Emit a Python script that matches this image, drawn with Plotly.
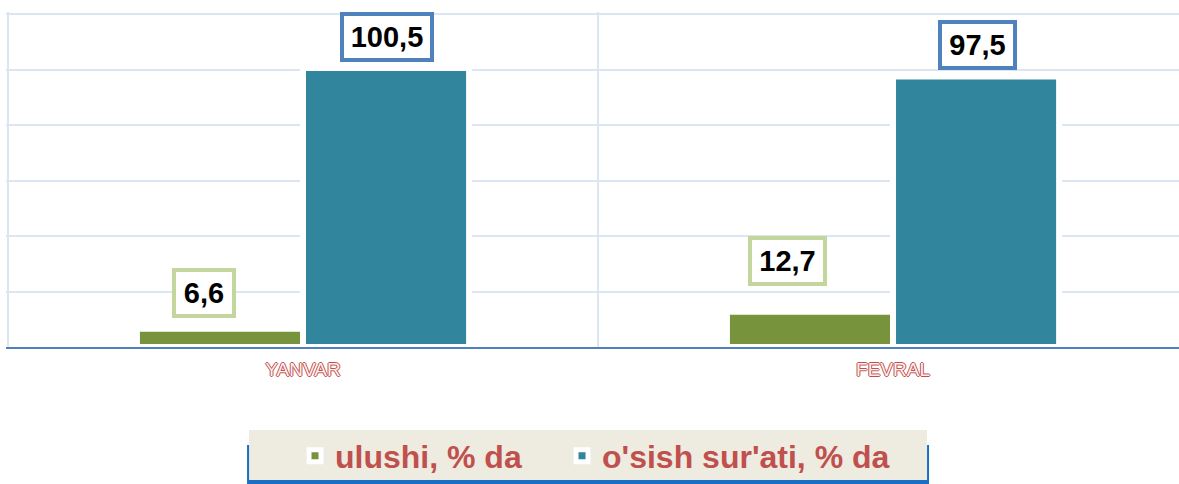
import plotly.graph_objects as go

categories = ["YANVAR", "FEVRAL"]
ulushi = [6.6, 12.7]
osish = [100.5, 97.5]
ulushi_labels = ["6,6", "12,7"]
osish_labels = ["100,5", "97,5"]
series_names = ["ulushi, % da", "o'sish sur'ati, % da"]

FONT = "Liberation Sans, Arial, sans-serif"
OLIVE = "#77933C"
TEAL = "#31859C"
RED = "#C0504D"

fig = go.Figure()
fig.add_bar(x=categories, y=ulushi, name=series_names[0], legendwidth=222,
            marker=dict(color=OLIVE, line=dict(color="white", width=6)))
fig.add_bar(x=categories, y=osish, name=series_names[1],
            marker=dict(color=TEAL, line=dict(color="white", width=6)))

# data labels
lab_style = [
    dict(border="#C3D69B", xshifts=[-99, -106], yshifts=[11, 26]),
    dict(border="#4F81BD", xshifts=[84, 84], yshifts=[6, 6]),
]
for s, (vals, labs) in enumerate([(ulushi, ulushi_labels), (osish, osish_labels)]):
    st = lab_style[s]
    for i, (c, v, t) in enumerate(zip(categories, vals, labs)):
        fig.add_annotation(
            x=c, y=v, text=t, showarrow=False, xanchor="center", yanchor="bottom",
            xshift=st["xshifts"][i], yshift=st["yshifts"][i],
            width=15 * len(t) + 1,
            font=dict(family=FONT, size=29, color="black", weight="bold"),
            bgcolor="white", bordercolor=st["border"], borderwidth=4, borderpad=5,
        )

# legend background panel with blue shadow
fig.add_shape(type="rect", xref="paper", yref="paper", x0=0.2055, x1=0.7869,
              y0=-0.409, y1=-0.2925, line=dict(width=0), fillcolor="#1A6FC4",
              layer="above")
fig.add_shape(type="rect", xref="paper", yref="paper", x0=0.2072, x1=0.7852,
              y0=-0.397, y1=-0.2478, line=dict(width=0), fillcolor="#EEEBE0",
              layer="above")

outline = ("1px 0 0 #C0504D, -1px 0 0 #C0504D, 0 1px 0 #C0504D, 0 -1px 0 #C0504D")

fig.update_layout(
    width=1179, height=484,
    margin=dict(l=6, r=0, t=12, b=137, autoexpand=False),
    paper_bgcolor="white", plot_bgcolor="white",
    barmode="group", bargap=0.437, bargroupgap=0,
    showlegend=True,
    legend=dict(orientation="h", x=0.2464, xanchor="left",
                yref="container", y=0.0579, yanchor="middle",
                bgcolor="rgba(0,0,0,0)",
                font=dict(family=FONT, size=32, color=RED, weight="bold")),
    xaxis=dict(range=[-0.5034, 1.4847], tickson="boundaries", showgrid=True,
               gridcolor="#DCE6F2", gridwidth=2, ticks="", showline=True,
               linecolor="#4F81BD", linewidth=2, ticklabelstandoff=4,
               tickfont=dict(family=FONT, size=19, color="#FCEEEE", shadow=outline)),
    yaxis=dict(range=[0, 120.72], dtick=20, showgrid=True, gridcolor="#DCE6F2",
               gridwidth=2, showticklabels=False, zeroline=False, ticks=""),
)

page_css = (
    "for (const el of [document.documentElement, document.body]) {"
    "el.style.margin='0'; el.style.padding='0'; el.style.height='484px';"
    "el.style.overflow='hidden';}"
)
fig.write_html("out.html", config={"displayModeBar": False}, post_script=page_css)
